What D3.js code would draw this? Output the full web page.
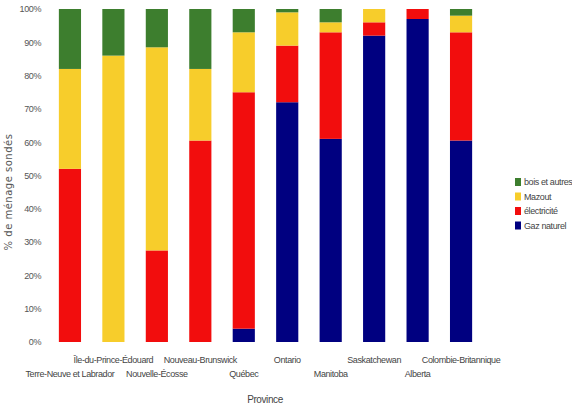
<!DOCTYPE html>
<html>
<head>
<meta charset="utf-8">
<script src="https://cdn.jsdelivr.net/npm/d3@7"></script>
<style>
	body { margin: 0; background: #fff; }
	svg { display: block; }
	text { font-family: "Liberation Sans", Arial, sans-serif; fill: #444; letter-spacing: -0.4px; }
</style>
</head>
<body>
<svg width="572" height="409"></svg>
<script>
// provinces, dans l'ordre du graphique
const provinces = [
	"Terre-Neuve et Labrador", "Île-du-Prince-Édouard", "Nouvelle-Écosse",
	"Nouveau-Brunswick", "Québec", "Ontario", "Manitoba",
	"Saskatchewan", "Alberta", "Colombie-Britannique"
];

// % des ménages par source de chauffage
const gazNaturel = [0, 0, 0, 0, 4, 72, 61, 92, 97, 60.5];
const electricite = [52, 0, 27.5, 60.5, 71, 17, 32, 4, 3, 32.5];
const mazout = [30, 86, 61, 21.5, 18, 10, 3, 4, 0, 5];
const boisAutres = [18, 14, 11.5, 18, 7, 1, 4, 0, 0, 2];

const seriesNames = ["Gaz naturel", "électricité", "Mazout", "bois et autres"];
const seriesValues = [gazNaturel, electricite, mazout, boisAutres];
const colors = ["#000080", "#f20d0d", "#f7cd2b", "#3d7e2e"];

const yTicks = [0, 10, 20, 30, 40, 50, 60, 70, 80, 90, 100];

const svg = d3.select('svg');
const margin = { top: 9, left: 48, right: 90, bottom: 67 };
const innerHeight = 409 - margin.top - margin.bottom;

// tableau pour d3.stack
const table = provinces.map((p, i) => {
	const row = { province: p };
	seriesNames.forEach((s, j) => row[s] = seriesValues[j][i]);
	return row;
});

const stacked = d3.stack().keys(seriesNames)(table);

const xScale = d3.scaleBand()
	.domain(provinces)
	.range([0, 435])
	.paddingInner(0.49)
	.paddingOuter(0.25);

const yScale = d3.scaleLinear()
	.domain([0, 100])
	.range([innerHeight, 0]);

const g = svg.append('g')
	.attr('transform', `translate(${margin.left}, ${margin.top})`);

// barres
g.selectAll('g.serie').data(stacked)
	.enter().append('g')
		.attr('class', 'serie')
		.attr('fill', (d, i) => colors[i])
	.selectAll('rect').data(d => d)
	.enter().append('rect')
		.attr('x', d => xScale(d.data.province))
		.attr('y', d => yScale(d[1]))
		.attr('width', xScale.bandwidth())
		.attr('height', d => yScale(d[0]) - yScale(d[1]));

// y-as
const yAxis = g.append('g')
	.call(d3.axisLeft(yScale).tickValues(yTicks).tickFormat(d => d + '%').tickSize(0).tickPadding(7));
yAxis.select('.domain').remove();
yAxis.selectAll('text')
	.style('font-family', '"Liberation Sans", Arial, sans-serif')
	.style('font-size', '9px')
	.style('fill', '#555');

// x-as, etiketten om en om verspringend
const xAxis = g.append('g')
	.attr('transform', `translate(0, ${innerHeight})`)
	.call(d3.axisBottom(xScale).tickSize(0));
xAxis.select('.domain').remove();
xAxis.selectAll('text')
	.attr('y', (d, i) => i % 2 === 0 ? 32 : 18)
	.attr('dy', '0.32em')
	.style('font-family', '"Liberation Sans", Arial, sans-serif')
	.style('font-size', '9px')
	.style('fill', '#444');

g.append('text')
	.attr('x', 217)
	.attr('y', innerHeight + 61)
	.attr('text-anchor', 'middle')
	.style('font-size', '10px')
	.text('Province');

svg.append('text')
	.attr('transform', 'translate(12, 192) rotate(-90)')
	.attr('text-anchor', 'middle')
	.style('font-family', '"DejaVu Sans", sans-serif')
	.style('font-size', '10px')
	.style('letter-spacing', '0.5px')
	.style('fill', '#555')
	.text('% de ménage sondés');

// legende (bois bovenaan)
const legend = svg.append('g')
	.attr('transform', 'translate(515, 178)');

const legendItems = legend.selectAll('g').data(seriesNames.slice().reverse())
	.enter().append('g')
		.attr('transform', (d, i) => `translate(0, ${i * 14.5})`);

legendItems.append('rect')
	.attr('width', 6)
	.attr('height', 8)
	.attr('fill', d => colors[seriesNames.indexOf(d)]);

legendItems.append('text')
	.attr('x', 9)
	.attr('y', 4)
	.attr('dy', '0.35em')
	.style('font-size', '9px')
	.text(d => d);
</script>
</body>
</html>
